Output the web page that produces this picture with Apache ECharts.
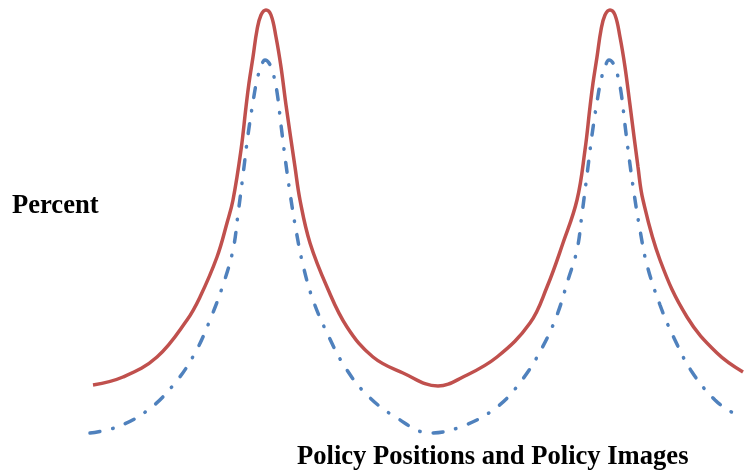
<!DOCTYPE html>
<html>
<head>
<meta charset="utf-8">
<script src="https://cdn.jsdelivr.net/npm/echarts@6/dist/echarts.min.js"></script>
<style>
  html, body { margin: 0; padding: 0; background: #fff; }
  #container { width: 744px; height: 476px; }
</style>
</head>
<body>
<div id="container"></div>
<script>
// policy positions (horizontal) and share (vertical)
var positionsA = [93, 123, 157, 187, 200, 217, 227, 233, 241, 246, 249, 253, 257, 261, 266, 271, 276, 281, 286, 295,
    300, 310, 327, 347, 373, 403, 438, 463, 497, 530, 547, 563, 577, 585, 590, 593, 597, 601, 605, 610,
    615, 620, 625, 630, 638, 643, 660, 687, 717, 743];
var percentA = [91, 99, 119, 156, 179, 219, 253, 276, 326, 369, 393, 419, 446, 461, 466, 461, 439, 409, 371, 309,
    276, 233, 189, 149, 119, 103, 90, 99, 119, 153, 189, 233, 276, 326, 369, 393, 419, 446, 461, 466,
    461, 439, 409, 371, 309, 276, 216, 159, 123, 104];

var positionsB = [90, 117, 148, 175, 195, 210, 223, 233, 238, 243, 248, 253, 257, 261, 265, 269, 273, 277, 281, 285,
    290, 296, 303, 313, 328, 345, 367, 397, 430, 463, 497, 522, 542, 557, 568, 577, 582, 587, 592, 597,
    601, 605, 609, 613, 617, 621, 625, 629, 634, 640, 647, 660, 674, 692, 715, 733, 740];
var percentB = [43, 49, 66, 93, 123, 156, 191, 226, 262, 301, 341, 374, 396, 409, 416, 413, 403, 384, 351, 319,
    283, 246, 211, 176, 141, 109, 81, 58, 43, 50, 69, 96, 128, 161, 196, 226, 262, 301, 341, 374,
    396, 409, 416, 413, 403, 384, 351, 319, 283, 246, 211, 171, 138, 104, 76, 63, 60];

function pairs(xs, ys) {
    var out = [];
    for (var i = 0; i < xs.length; i++) out.push([xs[i], ys[i]]);
    return out;
}

var container = document.getElementById('container');
var charts = echarts.init(container);

var labelFont = {
    fontFamily: 'Liberation Serif',
    fontWeight: 'bold',
    fontSize: 26.6,
    color: '#000'
};

var option = {
    animation: false,
    backgroundColor: '#fff',
    title: [
        { text: 'Percent', left: 12, top: 193, padding: 0, textStyle: labelFont },
        { text: 'Policy Positions and Policy Images', left: 297, top: 444, padding: 0, textStyle: labelFont }
    ],
    grid: { left: 0, right: 0, top: 0, bottom: 0 },
    xAxis: {
        type: 'value', min: 0, max: 744,
        axisLine: { show: false }, axisTick: { show: false },
        axisLabel: { show: false }, splitLine: { show: false }
    },
    yAxis: {
        type: 'value', min: 0, max: 476,
        axisLine: { show: false }, axisTick: { show: false },
        axisLabel: { show: false }, splitLine: { show: false }
    },
    series: [
        {
            type: 'line',
            data: pairs(positionsA, percentA),
            smooth: 0.4,
            showSymbol: false,
            lineStyle: { color: '#C0504D', width: 3.5 }
        },
        {
            type: 'line',
            data: pairs(positionsB, percentB),
            smooth: 0.4,
            showSymbol: false,
            lineStyle: { color: '#4F81BD', width: 3.5, type: [10, 13, 0.5, 13], cap: 'round' }
        }
    ]
};

charts.setOption(option, true);
</script>
</body>
</html>
